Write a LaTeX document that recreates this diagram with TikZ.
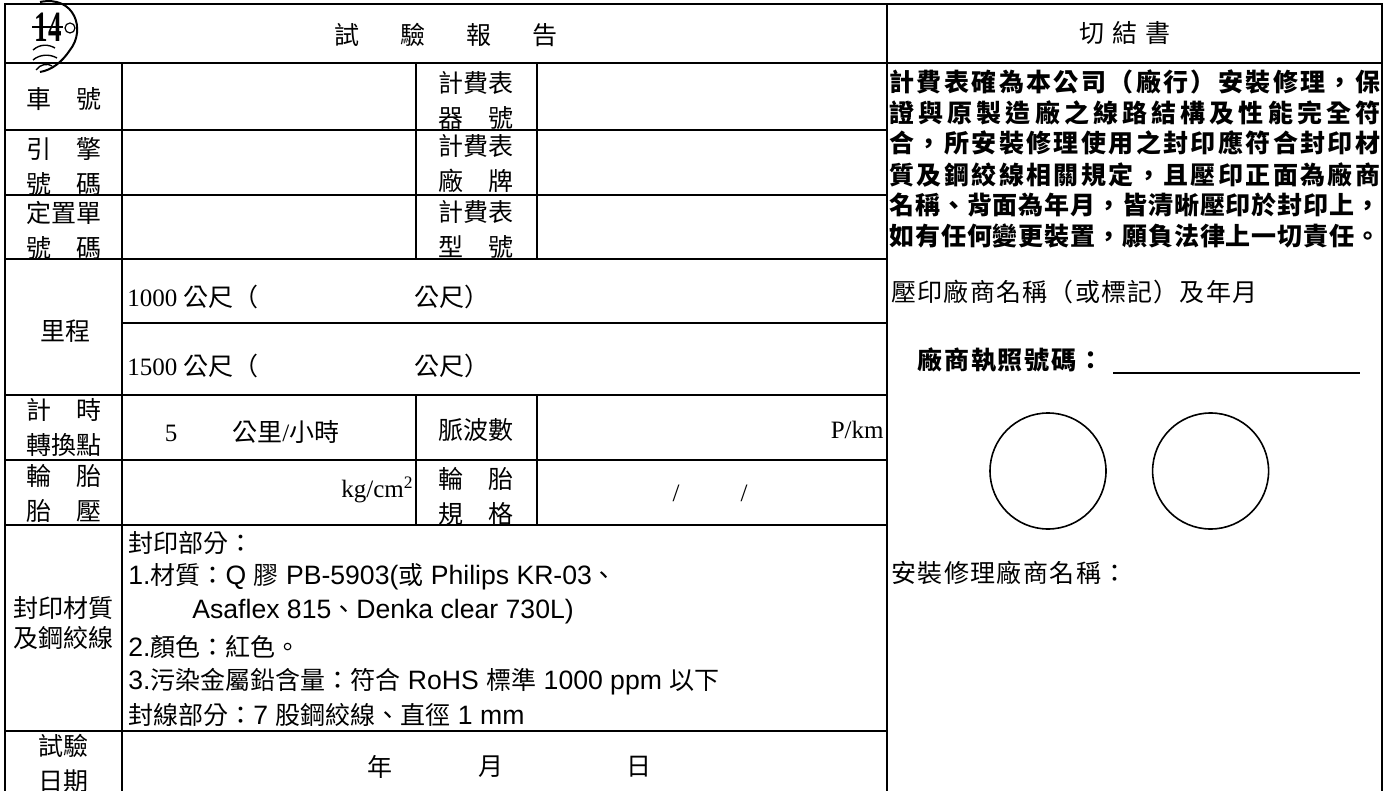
\documentclass[tikz,border=0pt]{standalone}
\usepackage{fontspec}
\setmainfont{Noto Sans CJK TC}
\newfontfamily\tnr{Liberation Serif}
\newfontfamily\ari{Liberation Sans}
\usetikzlibrary{positioning}

\newcommand\la[1]{{\ari\fontsize{13.3}{15}\selectfont #1}}% latin part in sans
\newcommand\fs{\fontsize{12.5}{17.5}\selectfont\lineskiplimit=-100pt\relax}
\newcommand\fss{\fontsize{12.5}{15}\selectfont\lineskiplimit=-100pt\relax}
\newcommand\fst{\tnr\fontsize{12.5}{15}\selectfont}
% spread one line of characters over a given width
\let\spreadstop\relax
\newcommand\spreadto[2]{\makebox[#1][s]{\spreadchar#2\spreadstop}}
\newcommand\spread[1]{\spreadto{245.5pt}{#1}}
\def\spreadchar#1#2{#1\ifx\spreadstop#2\else\hfil\expandafter\spreadchar\expandafter#2\fi}

\tikzset{
  rule/.style={line width=1pt},                       % table rules
  cell/.style={inner sep=0pt, align=center, font=\fs},
  ltext/.style={inner sep=0pt, anchor=west, font=\fs},
  btext/.style={ltext, font=\fs\bfseries},
  sealmark/.style={draw, circle, line width=0.8pt, minimum size=58pt, inner sep=0pt}
}

\begin{document}
\begin{tikzpicture}[x=0.5pt, y=-0.5pt]
\useasboundingbox (0,0) rectangle (1386,791);

% frame and rules
\draw[rule] (5,795) -- (5,4) -- (1382,4) -- (1382,795);
\draw[rule] (887,4) -- (887,795);
\draw[rule] (5,63) -- (1382,63);
\foreach \y in {130,195,259,395,460,525,731}
  \draw[rule] (5,\y) -- (887,\y);
\draw[rule] (122,323) -- (887,323);
\draw[rule] (122,63) -- (122,795);
\foreach \x in {416,537}{
  \draw[rule] (\x,63) -- (\x,259);
  \draw[rule] (\x,395) -- (\x,525);
}

% page mark
\node[inner sep=0pt, font=\tnr\bfseries\fontsize{18}{18}\selectfont, xscale=0.75, yscale=1.2] (page) at (48,27) {14};
\draw[line width=0.8pt] (32,27) -- (63,27);
\draw[line width=0.6pt] (70,28) circle (5);
\draw[line width=1pt] (40,2) .. controls (75,-5) and (86,30) .. (70,50) .. controls (62,62) and (52,70) .. (40,72);
\draw[line width=0.7pt] (33,50) .. controls (40,44) and (48,44) .. (55,48);
\draw[line width=0.7pt] (33,60) .. controls (40,54) and (50,54) .. (57,58);
\draw[line width=0.7pt] (36,70) .. controls (40,64) and (48,63) .. (52,66);

% headers
\node[cell] (report) at (446,35) {試\hspace{1.64em}驗\hspace{1.64em}報\hspace{1.64em}告};
\node[cell] (oath) at (1125,33) {切\hspace{0.34em}結\hspace{0.34em}書};

% left labels
\node[cell] (carno) at (64,99) {車　號};
\node[cell] (engno) at (64,166) {引　擎\\號　碼};
\node[cell] (fixno) at (64,230) {定置單\\號　碼};
\node[cell] (mile) at (65,331) {里程};
\node[cell] (clock) at (64,427) {計　時\\轉換點};
\node[cell] (tire) at (64,493) {輪　胎\\胎　壓};
\node[cell, font=\fss] (sealmat) at (63,623) {封印材質\\及鋼絞線};
\node[cell] (testdate) at (63,763) {試驗\\日期};

% meter labels
\node[cell] (mtrno) at (476,100) {計費表\\器　號};
\node[cell] (mtrbrand) at (476,164) {計費表\\廠　牌};
\node[cell] (mtrtype) at (476,229) {計費表\\型　號};
\node[cell] (pulse) at (476,430) {脈波數};
\node[cell] (tirespec) at (476,496) {輪　胎\\規　格};

% mileage, speed, pressure
\node[ltext] (m1000) at (127,297) {\tnr 1000 {\rmfamily 公尺（}};
\node[ltext] (m1000b) at (414,297) {公尺）};
\node[ltext] (m1500) at (127,366) {\tnr 1500 {\rmfamily 公尺（}};
\node[ltext] (m1500b) at (414,366) {公尺）};
\node[cell] (speed) at (252,432) {{\tnr 5}\hspace{2.2em}公里{\tnr /}小時};
\node[cell, anchor=east, font=\fst] (pkm) at (884,430) {P/km};
\node[cell, anchor=east, font=\fst] (kgcm) at (414,490) {kg/cm\textsuperscript{2}};
\node[cell, font=\fst] (size) at (710,493) {/\hspace{30.5pt}/};

% seal material
\node[ltext] (seal0) at (128,543) {封印部分：};
\node[ltext] (seal1) at (128,577) {\la{1.}材質：\la{Q }膠\la{ PB-5903(}或\la{ Philips KR-03}、};
\node[ltext] (seal2) at (192,612) {\la{Asaflex 815}、\la{Denka clear 730L)}};
\node[ltext] (seal3) at (128,647) {\la{2.}顏色：紅色。};
\node[ltext] (seal4) at (128,682) {\la{3.}污染金屬鉛含量：符合\la{ RoHS }標準\la{ 1000 ppm }以下};
\node[ltext] (seal5) at (128,715) {封線部分：\la{7 }股鋼絞線、直徑\la{ 1 mm}};

% date
\node[cell] (yr) at (380,767) {年};
\node[cell, right=42.5pt of yr] (mon) {月};
\node[cell, right=61pt of mon] (day) {日};

% oath text
\node[btext] (oath1) at (889,82) {\spread{計費表確為本公司（廠行）安裝修理，保}};
\node[btext] (oath2) at (889,113) {\spread{證與原製造廠之線路結構及性能完全符}};
\node[btext] (oath3) at (889,143) {\spread{合，所安裝修理使用之封印應符合封印材}};
\node[btext] (oath4) at (889,175) {\spread{質及鋼絞線相關規定，且壓印正面為廠商}};
\node[btext] (oath5) at (889,205) {\spread{名稱、背面為年月，皆清晰壓印於封印上，}};
\node[btext] (oath6) at (889,236) {\spread{如有任何變更裝置，願負法律上一切責任。}};
\node[ltext] (stamp) at (891,292) {\spreadto{183pt}{壓印廠商名稱（或標記）及年月}};
\node[btext] (lic) at (917,360) {\spreadto{93pt}{廠商執照號碼：}};
\draw[rule] (1113,373) -- (1360,373);
\node[sealmark] (seal a) at (1048,471) {};
\node[sealmark, right=22.5pt of seal a] (seal b) {};
\node[ltext] (repair) at (891,573) {\spreadto{118pt}{安裝修理廠商名稱：}};
\end{tikzpicture}
\end{document}
